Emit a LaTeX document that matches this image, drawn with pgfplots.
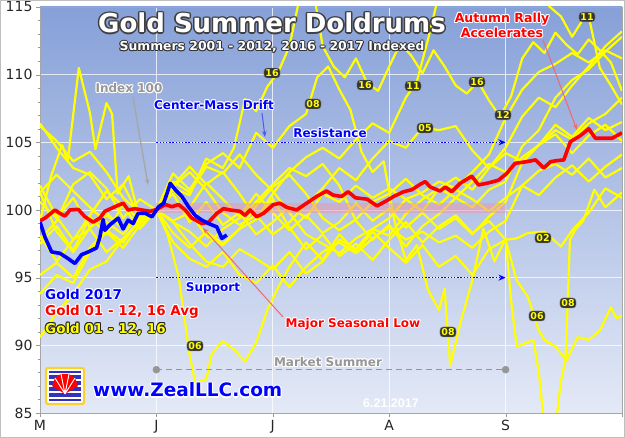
\documentclass[border=0pt]{standalone}
\usepackage{fontspec}
\setmainfont{DejaVu Sans}
\newfontfamily\lib{Liberation Sans}
\usepackage{pgfplots}
\pgfplotsset{compat=1.18}
\usetikzlibrary{arrows.meta}

\definecolor{ylw}{RGB}{255,255,0}
\definecolor{bgtop}{RGB}{134,160,216}
\definecolor{bgmid}{RGB}{180,198,234}
\definecolor{bgbot}{RGB}{228,233,246}
\definecolor{salmon}{RGB}{240,105,105}
\definecolor{cmblue}{RGB}{80,90,230}
\definecolor{lgray}{RGB}{150,150,150}
\definecolor{band}{RGB}{235,150,170}
\definecolor{logoblue}{RGB}{50,50,190}
\definecolor{logoyel}{RGB}{250,210,40}

% text with a halo: [node opts]{pos}{text}{fill colour}{halo colour}{halo width}
\newcommand\otext[6][]{%
  \foreach \a in {0,45,...,315}{\node[inner sep=0pt,#1,text=#5] at ([shift={(\a:#6)}]#2) {#3};}%
  \node[inner sep=0pt,#1,text=#4] at (#2) {#3};}
\newcommand\yr[2]{\node[fill=black!80, draw=black!45, rounded corners=3pt, inner sep=1.4pt,
  text=ylw, font=\bfseries\fontsize{9.5}{10}\selectfont] at (#1) {#2};}

\begin{document}
\begin{tikzpicture}
\path[use as bounding box] (0,0) rectangle (625pt,438pt);
\begin{axis}[
  at={(40pt,25pt)}, anchor=south west,
  scale only axis, width=582pt, height=406pt,
  xmin=0, xmax=105, ymin=85, ymax=115,
  xtick={0,21,42,63,84,105}, xticklabels={M,J,J,A,S,},
  ytick={85,90,...,115}, minor y tick num=4,
  xtick pos=bottom, ytick pos=left,
  grid=major, major grid style={white, line width=0.8pt, opacity=0.75},
  axis line style={gray!70}, tick style={gray!80},
  tick align=outside, major tick length=4pt, minor tick length=2pt,
  ticklabel style={font=\fontsize{14}{14}\selectfont, text=black!85},
  /pgf/number format/assume math mode=true,
  axis background/.style={top color=bgtop, middle color=bgmid, bottom color=bgbot},
  every axis plot/.append style={line join=round},
  yline/.style={color=ylw, line width=2.2pt},
]
% 2001
\addplot[yline] coordinates {(0,97.5) (3,98.8) (6,97) (9,99.5) (12,98.2) (15,100.5) (18,99.2) (21,100) (24,101.5) (27,100.2) (30,102) (33,100.8) (36,99.5) (39,101.2) (42,99.8) (45,98.5) (48,99.6) (51,98.3) (54,99.1) (57,100.5) (60,99.2) (63,100.1) (66,98.7) (69,99.8) (72,98.6) (75,99.4) (78,98.2) (81,99.5) (84,100.6) (87,103.5) (90,104.8) (93,105.6) (96,104.2) (99,105.5) (102,106.3) (105,105.1)};
% 2002
\addplot[yline] coordinates {(0,95.2) (3,96.1) (6,95) (9,97.2) (12,98.5) (15,97.6) (18,99.3) (21,100) (24,101.8) (27,103.2) (30,101.9) (33,102.8) (36,101.2) (39,99.4) (42,100.8) (45,98.7) (48,97.1) (51,98.2) (54,96.6) (57,97.5) (60,96.3) (63,97.8) (66,99.1) (69,97.6) (72,98.8) (75,99.6) (78,98.3) (81,99.2) (84,97.8) (86,97.9) (88,98.3) (91,98.4) (94,97.3) (96,98.5) (99,99.8) (102,101.6) (105,100.9)};
% 2003
\addplot[yline] coordinates {(0,93.8) (3,95.2) (6,94.6) (9,96.9) (12,98.4) (15,97.2) (18,98.9) (21,100) (24,99.1) (27,97.5) (30,96.2) (33,95.8) (36,97.1) (39,96.4) (42,95.6) (45,96.9) (48,95.3) (51,96.2) (54,97.8) (57,97.1) (60,98.6) (63,99.4) (66,100.8) (69,99.9) (72,101.6) (75,102.4) (78,101.5) (81,103.1) (84,104.2) (87,103.6) (90,104.8) (93,106.3) (96,105.4) (99,106.8) (102,105.9) (105,106.5)};
% 2004
\addplot[yline] coordinates {(0,101.8) (3,99.5) (6,97.8) (9,98.6) (12,96.9) (15,97.9) (18,99.1) (21,100) (24,98.3) (27,97.2) (30,98.4) (33,97.5) (36,98.6) (39,100.3) (42,101.7) (45,102.6) (48,101.2) (51,99.4) (54,98.5) (57,99.3) (60,100.6) (63,101.2) (66,102.3) (69,101.1) (72,100.4) (75,101.5) (78,100.8) (81,99.9) (84,100.9) (87,101.8) (90,101.1) (93,102.4) (96,103.3) (99,102.1) (102,103.2) (105,104.1)};
% 2005
\addplot[yline] coordinates {(0,100.6) (3,99.4) (6,100.9) (9,98.7) (12,99.8) (15,98.6) (18,99.4) (21,100) (24,101.7) (27,102.8) (30,101.5) (33,99.8) (36,98.9) (39,99.6) (42,98.2) (45,99.1) (48,100.4) (51,101.6) (54,103.1) (57,102.2) (60,103.8) (63,105.1) (66,104.6) (69,106.1) (72,105.9) (75,106.2) (78,104.4) (81,103.1) (84,104.6) (87,106.9) (90,108.3) (93,107.6) (96,109.2) (99,110.6) (102,112.1) (105,113.2)};
% 2006
\addplot[yline] coordinates {(0,99.2) (2,102.5) (4,104.8) (5,103.6) (7,110.5) (9,107.2) (10,104.5) (12,107.9) (13,107.1) (14,101.2) (16,102.5) (18,99.3) (21,100) (23,98.2) (25,95.1) (27,89.3) (28,87.2) (30,87.5) (31,89.4) (33,90.3) (35,89.7) (37,88.8) (39,90.2) (41,92.6) (43,94.3) (45,95.8) (48,97.6) (51,96.3) (54,98.2) (57,96.9) (60,98.4) (63,97.2) (66,96.1) (69,97.4) (72,95.8) (75,96.6) (78,95.2) (81,97.1) (84,97.8) (86,94.8) (88,93.6) (90,91.1) (91,90.4) (93,89.9) (95,88.9) (97,90.6) (99,90.4) (101,91.1) (103,92.8) (104,92) (105,92.2)};
% 2007
\addplot[yline] coordinates {(0,101.3) (3,102.6) (6,101.4) (9,100.2) (12,99.1) (15,98.2) (18,99.6) (21,100) (24,99.1) (27,98.4) (30,97.3) (33,98.6) (36,99.4) (39,100.6) (42,101.9) (45,103.1) (48,102.5) (51,103.4) (54,101.8) (57,99.2) (60,97.8) (63,98.9) (66,97.3) (69,98.8) (72,99.7) (75,100.9) (78,100.2) (81,101.5) (84,102.1) (87,104.7) (90,105.9) (93,108.3) (96,109.6) (99,110.4) (102,111.7) (105,112.8)};
% 2008
\addplot[yline] coordinates {(0,98.1) (3,96.2) (6,97.8) (9,99.6) (12,101.4) (15,100.3) (18,98.6) (21,100) (24,102.7) (27,101.5) (30,103.4) (33,104.2) (36,103.1) (39,105.7) (42,104.6) (45,106.2) (48,107.1) (50,109.8) (52,110.6) (54,108.9) (56,107.4) (58,104.3) (60,102.8) (62,103.6) (64,99.1) (66,96.3) (68,97.4) (70,94.1) (72,92.6) (73,94.2) (74,88.5) (76,91.9) (78,94.8) (80,98.6) (82,96.2) (84,97.9) (85,93.3) (86,89.9) (89,90.4) (90,88) (91,84) (93,84) (94,87.4) (94.8,88.9) (95.2,93.1) (95.6,97.8) (96.5,98.5) (98,99.2) (100,101.5) (102,100.2) (105,101.3)};
% 2009
\addplot[yline] coordinates {(0,90.6) (3,92.4) (6,93.8) (9,95.6) (12,96.2) (15,97.9) (18,99.1) (21,100) (24,97.6) (27,96.4) (30,95.8) (33,96.9) (36,95.2) (39,94.6) (42,95.9) (45,94.3) (48,95.8) (51,96.9) (54,97.6) (57,96.8) (60,97.9) (63,98.7) (66,97.8) (69,98.4) (72,97.6) (75,98.1) (78,97.2) (81,98.4) (84,99.2) (87,101.8) (90,102.9) (93,103.4) (96,102.6) (99,103.8) (102,102.4) (105,103.1)};
% 2010
\addplot[yline] coordinates {(0,97.8) (3,99.2) (6,101.9) (9,102.8) (12,101.6) (15,99.4) (18,100.8) (21,100) (24,102.1) (27,101.3) (30,103.2) (33,102.7) (36,104.1) (39,102.6) (42,101.4) (45,99.8) (48,98.2) (51,97.5) (54,96.8) (57,97.9) (60,98.6) (63,98.1) (66,99.7) (69,100.8) (72,101.6) (75,100.9) (78,102.1) (81,103.4) (84,102.8) (87,103.9) (90,104.8) (93,105.9) (96,105.2) (99,106.4) (102,107.1) (105,108.3)};
% 2011
\addplot[yline] coordinates {(0,101.3) (3,98.4) (6,96.9) (9,98.7) (12,99.6) (15,98.8) (18,99.7) (21,100) (24,99.2) (27,99.8) (30,98.1) (33,97.4) (36,98.6) (39,99.3) (42,101.2) (45,102.8) (48,103.9) (51,104.6) (54,103.8) (57,105.2) (60,106.4) (63,105.7) (66,108.3) (68,109.5) (70,112.6) (72,116) (74,118) (76,117) (78,119) (80,118) (82,117) (84,118) (86,120) (88,117) (90,116) (92,115) (94,114.3) (96,112.8) (98,114.1) (99,114.3) (101,110.5) (103,109.2) (105,107.8)};
% 2012
\addplot[yline] coordinates {(0,106.4) (3,104.6) (6,103.1) (9,102.6) (12,100.8) (15,101.9) (18,99.4) (21,100) (24,101.2) (27,99.1) (30,100.6) (33,98.9) (36,99.8) (39,98.2) (42,99.1) (45,100.3) (48,99.4) (51,101.2) (54,100.6) (57,101.8) (60,100.9) (63,101.6) (66,100.8) (69,101.3) (72,102.1) (75,101.6) (78,102.8) (81,104.1) (84,106.8) (87,108.9) (90,110.2) (93,110.8) (96,111.6) (99,110.9) (102,111.8) (105,111.2)};
% 2016
\addplot[yline] coordinates {(0,106.2) (3,105.1) (6,103.6) (9,104.3) (12,102.8) (15,100.9) (18,99.8) (21,100) (24,101.6) (27,101.1) (30,103.8) (33,103.1) (35,104.6) (37,108.2) (39,107.3) (41,109.1) (43,110.2) (45,112.1) (47,116) (49,117) (51,112.1) (53,110.6) (55,109.8) (57,111.2) (59,109.4) (61,108.8) (63,110.6) (65,112.3) (67,111.4) (69,110.1) (71,111.8) (73,110.6) (75,109.2) (77,108.6) (79,109.5) (81,108.1) (83,106.9) (85,108.4) (87,111.2) (89,112.4) (91,111.6) (93,113.1) (95,112.2) (97,111.5) (99,112.6) (101,111.8) (103,110.9) (105,108.8)};

% pink index band
\addplot[draw=none, fill=band, fill opacity=0.5] coordinates {(21,99.8) (84,99.8) (84,100.5) (21,100.5)} -- cycle;
% resistance / support
\addplot[blue, line width=1.4pt, dash pattern=on 1.4pt off 1.8pt, -{Stealth[length=7pt,width=6pt]}] coordinates {(21,105) (84,105)};
\addplot[blue, line width=1.4pt, dash pattern=on 1.4pt off 1.8pt, -{Stealth[length=7pt,width=6pt]}] coordinates {(21,95) (84,95)};
% market summer
\addplot[lgray, line width=1.4pt, dash pattern=on 6pt off 4pt] coordinates {(21,88.2) (84,88.2)};
\addplot[lgray, only marks, mark=*, mark size=3.5pt] coordinates {(21,88.2) (84,88.2)};

% average
\addplot[red, line width=3.6pt] coordinates {(0,99.2) (0.9,99.4) (2.7,100.0) (3.6,99.75) (4.5,99.55) (5.4,100.0) (6.9,100.05) (8.1,99.5) (9.6,99.1) (10.8,99.4) (11.7,99.9) (13.5,100.24) (15.0,100.5) (15.9,100.0) (17.1,100.1) (18.4,100.0) (19.9,99.9) (21.1,100.05) (22.6,100.4) (23.8,100.24) (25.0,100.4) (26.2,100.0) (27.4,99.4) (29.2,99.0) (30.4,99.1) (31.9,99.75) (33.1,100.1) (34.3,100.0) (36.1,99.9) (37.0,99.6) (37.9,100.0) (39.1,99.5) (40.3,99.75) (42.1,100.4) (43.3,100.5) (44.5,100.2) (46.3,100.0) (48.1,100.5) (49.9,101.0) (51.7,101.4) (52.9,101.1) (54.4,101.0) (55.6,101.35) (56.9,100.9) (59.0,100.8) (60.8,100.3) (62.6,100.7) (63.8,101.0) (65.6,101.35) (67.1,101.5) (68.6,101.9) (69.5,102.1) (70.4,101.7) (72.2,101.4) (73.1,101.7) (74.3,101.35) (75.8,101.97) (77.9,102.5) (79.1,101.85) (80.9,102.0) (82.7,102.2) (84.2,102.7) (85.7,103.45) (87.8,103.57) (89.4,103.7) (90.9,103.1) (92.1,103.57) (93.3,103.65) (94.5,103.7) (95.7,105.05) (97.5,105.5) (99.0,106.0) (100.2,105.3) (101.4,105.3) (103.2,105.3) (105,105.7)};
% 2017
\addplot[blue, line width=3.6pt] coordinates {(0,99.1) (0.9,98.0) (2.1,96.9) (3.6,96.8) (5.1,96.4) (6.3,96.05) (7.5,96.7) (8.7,96.9) (10.2,97.2) (10.8,98.0) (11.4,99.3) (11.7,98.5) (12.6,98.9) (14.1,99.4) (15.0,98.6) (15.9,99.25) (16.8,99.0) (17.7,99.75) (19.0,99.75) (20.2,99.5) (21.4,100.24) (22.3,100.5) (22.9,101.2) (23.5,101.97) (24.4,101.5) (25.6,101.0) (26.8,100.24) (28.0,99.6) (29.2,99.25) (30.4,99.0) (31.9,98.75) (32.8,97.9) (33.7,98.15)};
\end{axis}

\begin{scope}[x=1pt,y=-1pt,shift={(0pt,438pt)}]
% titles
\otext[font=\bfseries\fontsize{26}{26}\selectfont]{272,23}{Gold Summer Doldrums}{white}{black!75}{1.6pt}
\otext[font=\bfseries\fontsize{12.4}{12.4}\selectfont]{272,47}{Summers 2001 - 2012, 2016 - 2017 Indexed}{white}{black!80}{1pt}
% arrows
\draw[gray!70, line width=1.3pt, -{Stealth[length=6pt]}] (133,97) -- (148,185);
\draw[cmblue, line width=1pt, -{Stealth[length=6pt]}] (262,113) -- (265,137);
\draw[salmon, line width=1pt, -{Stealth[length=6pt]}] (543,40) -- (577,130);
\draw[salmon, line width=1pt, -{Stealth[length=6pt]}] (283,317) -- (203,228);
% annotations
\otext[font=\bfseries\fontsize{12.5}{12.5}\selectfont]{502,19}{Autumn Rally}{red}{white}{1pt}
\otext[font=\bfseries\fontsize{12.5}{12.5}\selectfont]{502,33}{Accelerates}{red}{white}{1pt}
\otext[font=\bfseries\fontsize{12}{12}\selectfont]{129,88}{Index 100}{lgray}{white}{1pt}
\otext[font=\bfseries\fontsize{12}{12}\selectfont]{214,105}{Center-Mass Drift}{blue}{white}{1pt}
\otext[font=\bfseries\fontsize{12}{12}\selectfont]{330,133}{Resistance}{blue}{white}{1pt}
\otext[font=\bfseries\fontsize{12}{12}\selectfont]{213,288}{Support}{blue}{white}{1pt}
\otext[font=\bfseries\fontsize{12}{12}\selectfont]{353,324}{Major Seasonal Low}{red}{white}{1pt}
\otext[font=\bfseries\fontsize{12}{12}\selectfont]{328,362}{Market Summer}{lgray}{white}{1pt}
% legend
\otext[anchor=west, font=\bfseries\fontsize{13.5}{13.5}\selectfont]{45,294}{Gold 2017}{blue}{white}{1pt}
\otext[anchor=west, font=\bfseries\fontsize{13.5}{13.5}\selectfont]{45,312}{Gold 01 - 12, 16 Avg}{red}{white}{1pt}
\otext[anchor=west, font=\bfseries\fontsize{13.5}{13.5}\selectfont]{45,329}{Gold 01 - 12, 16}{ylw}{black!85}{1pt}
% year labels
\yr{272,73}{16}
\yr{313,104}{08}
\yr{365,85}{16}
\yr{413,86}{11}
\yr{425,128}{05}
\yr{477,82}{16}
\yr{503,115}{12}
\yr{587,17}{11}
\yr{543,238}{02}
\yr{537,316}{06}
\yr{568,303}{08}
\yr{448,332}{08}
\yr{195,346}{06}
% logo
\filldraw[fill=white, draw=logoyel, line width=2.2pt, rounded corners=2pt] (46,368) rectangle (84,404);
\fill[logoblue] (49,371) rectangle (81,401);
\foreach \yy in {374,380,386,392,398} {\draw[white, line width=1.2pt] (49,\yy) -- (81,\yy);}
\fill[red] (65,394) -- (52,386) -- (55,378) -- (61,374) -- (69,374) -- (75,378) -- (78,386) -- cycle;
\draw[white, line width=0.9pt] (65,394) -- (55,378) (65,394) -- (61,374) (65,394) -- (69,374) (65,394) -- (75,378);
\otext[anchor=west, font=\bfseries\fontsize{18.5}{18.5}\selectfont]{93,390}{www.ZealLLC.com}{blue}{white}{1.2pt}
\node[text=white, font=\lib\bfseries\fontsize{12.5}{12.5}\selectfont, inner sep=0pt] at (391,403) {6.21.2017};
\end{scope}
\draw[gray!50] (0.5pt,0.5pt) rectangle (624.5pt,437.5pt);
\end{tikzpicture}
\end{document}
